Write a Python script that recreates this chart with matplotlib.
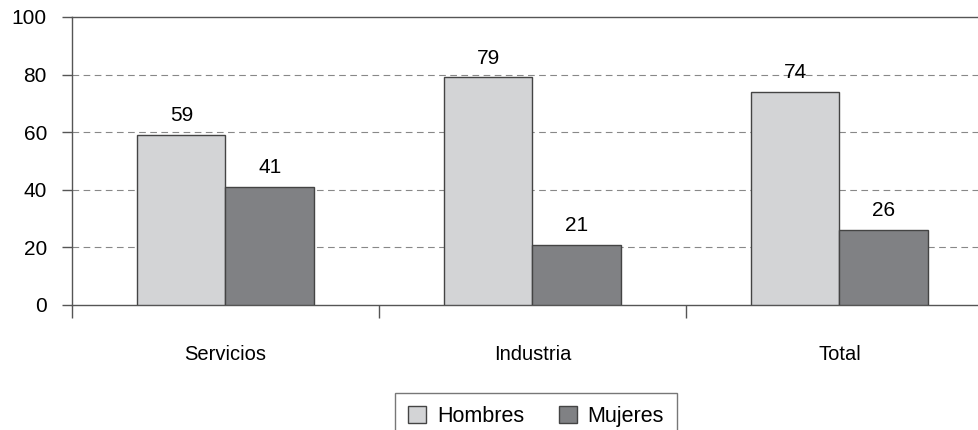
import matplotlib
matplotlib.use('Agg')
import matplotlib.pyplot as plt
import numpy as np

plt.rcParams['font.family'] = ['Liberation Sans', 'DejaVu Sans']

categories = ['Servicios', 'Industria', 'Total']
hombres = [59, 79, 74]
mujeres = [41, 21, 26]
series_labels = ['Hombres', 'Mujeres']
y_ticks = [0, 20, 40, 60, 80, 100]

COL_H = '#d3d4d6'
COL_M = '#808184'
EDGE = '#444444'
AXC = '#555555'

fig = plt.figure(figsize=(9.79, 4.30), dpi=100)
# axes runs past the right edge, as in the original crop
ax = fig.add_axes([72 / 979, 1 - 305 / 430, 921 / 979, 288 / 430])

x = np.arange(len(categories)) + 0.5
w = 0.288
bh = ax.bar(x - w / 2, hombres, w, color=COL_H, edgecolor=EDGE, linewidth=1.0,
            label=series_labels[0], zorder=3)
bm = ax.bar(x + w / 2, mujeres, w, color=COL_M, edgecolor=EDGE, linewidth=1.0,
            label=series_labels[1], zorder=3)

for bars, vals in ((bh, hombres), (bm, mujeres)):
    for b, v in zip(bars, vals):
        ax.annotate(f'{v}', (b.get_x() + b.get_width() / 2, v),
                    xytext=(0, 7), textcoords='offset points',
                    ha='center', va='bottom', fontsize=15)

ax.set_xlim(0, 3)
ax.set_ylim(0, 100)
ax.set_yticks(y_ticks)
ax.set_yticklabels([str(t) for t in y_ticks], fontsize=15)
ax.tick_params(axis='y', length=7, width=1, color=AXC, pad=11)

ax.set_xticks(x)
ax.set_xticklabels(categories, fontsize=14.5)
ax.set_xticks(np.arange(0, 4), minor=True)
ax.tick_params(axis='x', which='major', length=0, pad=29)
ax.tick_params(axis='x', which='minor', length=9, width=1, color=AXC)

for yv in y_ticks[1:-1]:
    ax.axhline(yv, color='#888888', linewidth=0.8, linestyle=(0, (6, 4)), zorder=1)

for s in ('left', 'bottom', 'top'):
    ax.spines[s].set_color(AXC)
    ax.spines[s].set_linewidth(1.0)
ax.spines['right'].set_visible(False)

leg = fig.legend(handles=[bh, bm], labels=series_labels, loc='upper center',
                 bbox_to_anchor=(536 / 979, 1 - 393 / 430), borderaxespad=0,
                 ncol=2, fontsize=15.5,
                 frameon=True, fancybox=False, edgecolor=AXC,
                 handlelength=0.85, handleheight=0.85, handletextpad=0.5,
                 columnspacing=1.6, borderpad=0.6)
leg.get_frame().set_linewidth(1.0)

fig.savefig('out.png', dpi=100)
